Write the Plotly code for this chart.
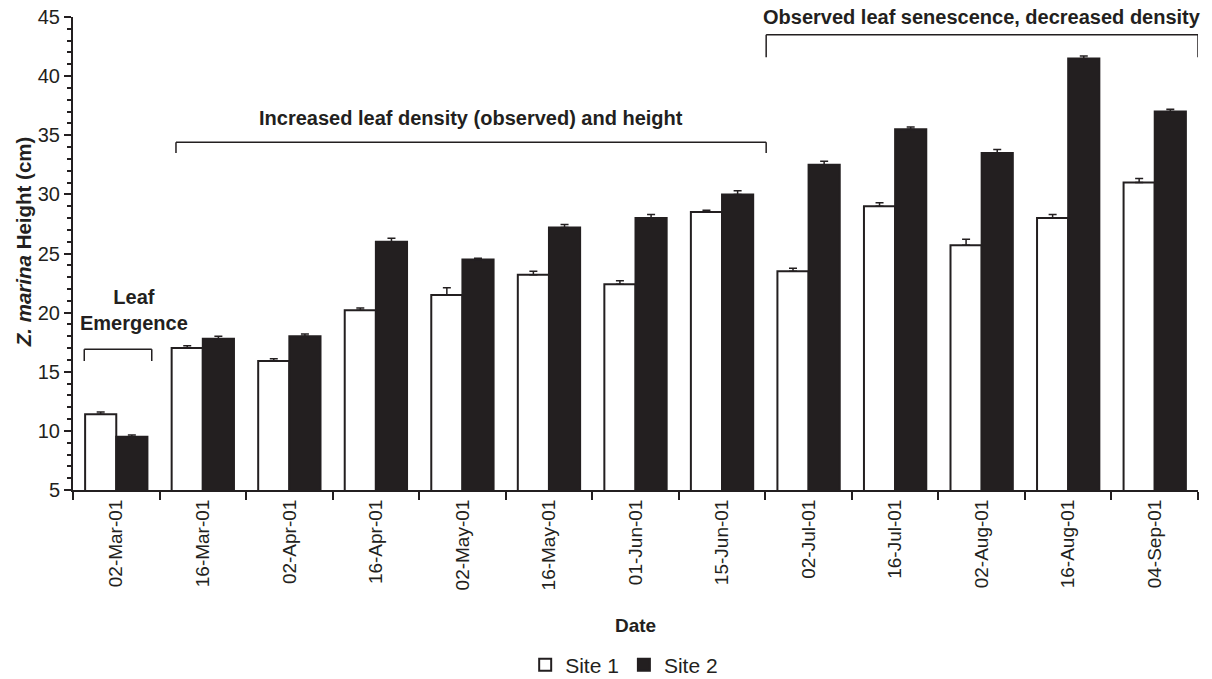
import plotly.graph_objects as go

dates = ["02-Mar-01", "16-Mar-01", "02-Apr-01", "16-Apr-01", "02-May-01", "16-May-01",
         "01-Jun-01", "15-Jun-01", "02-Jul-01", "16-Jul-01", "02-Aug-01", "16-Aug-01", "04-Sep-01"]
site1 = [11.4, 17.0, 15.9, 20.2, 21.5, 23.2, 22.4, 28.5, 23.5, 29.0, 25.7, 28.0, 31.0]
site1_err = [0.2, 0.2, 0.2, 0.2, 0.6, 0.3, 0.3, 0.15, 0.25, 0.3, 0.5, 0.3, 0.35]
site2 = [9.5, 17.8, 18.0, 26.0, 24.5, 27.2, 28.0, 30.0, 32.5, 35.5, 33.5, 41.5, 37.0]
site2_err = [0.15, 0.2, 0.2, 0.3, 0.1, 0.25, 0.3, 0.3, 0.3, 0.2, 0.3, 0.2, 0.2]

ink = "#231f20"
font = "Liberation Sans, Arial, sans-serif"

fig = go.Figure()
fig.add_trace(go.Bar(
    x=dates, y=site1, name="Site 1",
    marker=dict(color="white", line=dict(color=ink, width=2)),
    error_y=dict(type="data", array=site1_err, symmetric=False,
                 arrayminus=[0] * len(site1_err), color=ink, thickness=1.5, width=4),
))
fig.add_trace(go.Bar(
    x=dates, y=site2, name="Site 2",
    marker=dict(color=ink, line=dict(color=ink, width=2)),
    error_y=dict(type="data", array=site2_err, symmetric=False,
                 arrayminus=[0] * len(site2_err), color=ink, thickness=1.5, width=4),
))

line = dict(color=ink, width=1.5)
# Brackets
brackets = [(-0.37, 0.41, 16.9, 15.9), (0.69, 7.51, 34.4, 33.5), (7.51, 12.5, 43.5, 41.6)]
for x0, x1, ytop, ybot in brackets:
    fig.add_shape(type="line", xref="x", yref="y", x0=x0, x1=x1, y0=ytop, y1=ytop, line=line)
    fig.add_shape(type="line", xref="x", yref="y", x0=x0, x1=x0, y0=ytop, y1=ybot, line=line)
    fig.add_shape(type="line", xref="x", yref="y", x0=x1, x1=x1, y0=ytop, y1=ybot, line=line)

ann_font = dict(family=font, size=20, color=ink)
fig.add_annotation(x=0.2, y=20.2, xref="x", yref="y", text="<b>Leaf<br>Emergence</b>",
                   showarrow=False, font=ann_font, yanchor="middle")
fig.add_annotation(x=4.1, y=36.45, xref="x", yref="y",
                   text="<b>Increased leaf density (observed) and height</b>",
                   showarrow=False, font=ann_font, yanchor="middle")
fig.add_annotation(x=10.0, y=45.0, xref="x", yref="y",
                   text="<b>Observed leaf senescence, decreased density</b>",
                   showarrow=False, font=ann_font, yanchor="middle")
# Y-axis title
fig.add_annotation(x=-0.0444, y=0.524, xref="paper", yref="paper", textangle=-90,
                   text="<b><i>Z. marina</i> Height (cm)</b>", showarrow=False,
                   font=dict(family=font, size=20.5, color=ink),
                   xanchor="center", yanchor="middle")

fig.update_layout(
    width=1212, height=679,
    margin=dict(l=73, r=14, t=17, b=189, autoexpand=False),
    paper_bgcolor="white", plot_bgcolor="white",
    barmode="group", bargap=0.28, bargroupgap=0,
    font=dict(family=font, size=19, color=ink),
    showlegend=True,
    legend=dict(orientation="h", x=0.515, xanchor="center", xref="container",
                y=1 - 665 / 679, yanchor="middle", yref="container",
                font=dict(size=21), itemwidth=30, tracegroupgap=0),
    xaxis=dict(
        type="category", range=[-0.5, 12.5], automargin=False,
        showline=True, linecolor=ink, linewidth=2,
        ticks="outside", tickson="boundaries", ticklen=8, tickwidth=2, tickcolor=ink,
        tickangle=-90, tickfont=dict(size=19),
        title=dict(text="<b>Date</b>", font=dict(size=19), standoff=29),
        showgrid=False,
    ),
    yaxis=dict(
        range=[5, 45], dtick=5, tick0=5, automargin=False,
        showline=True, linecolor=ink, linewidth=2,
        ticks="outside", ticklen=7, tickwidth=2, tickcolor=ink,
        tickfont=dict(size=20),
        minor=dict(dtick=1, ticks="outside", ticklen=4, tickwidth=1.5, tickcolor=ink, showgrid=False),
        showgrid=False, zeroline=False,
    ),
)

fig.write_html("out.html")
